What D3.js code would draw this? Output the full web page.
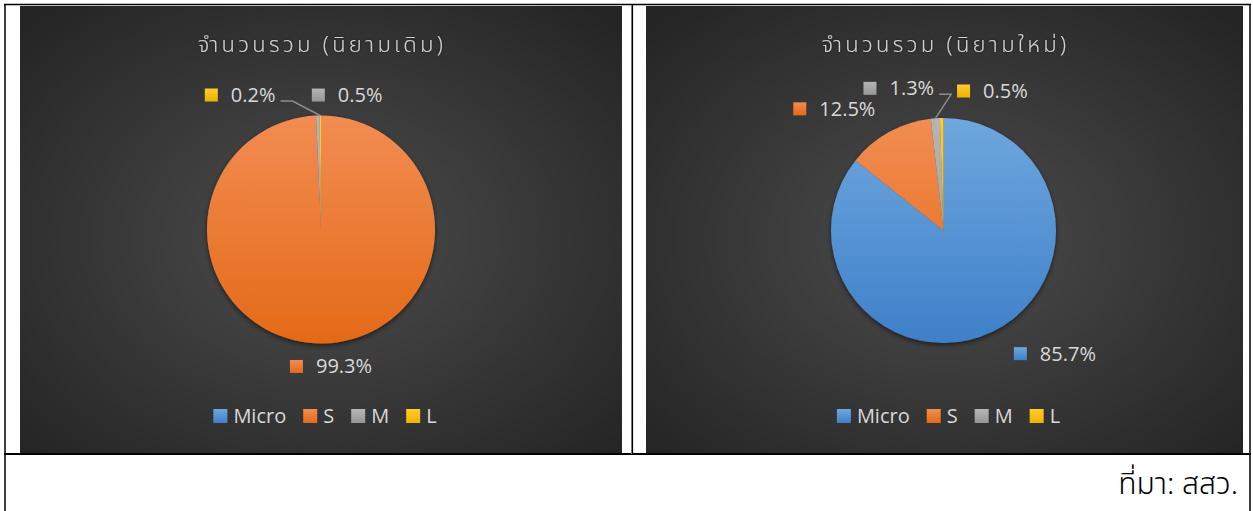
<!DOCTYPE html>
<html lang="th">
<head>
  <meta charset="UTF-8">
  <title>จำนวนรวม</title>
  <script src="https://cdnjs.cloudflare.com/ajax/libs/d3/7.8.5/d3.min.js"></script>
  <style>
    body { margin: 0; background: #fff; }
    svg { display: block; }
  </style>
</head>
<body>
  <script>

    // data
    var categories = ["Micro", "S", "M", "L"];
    var oldShares = [0, 99.3, 0.5, 0.2];     // นิยามเดิม
    var newShares = [85.7, 12.5, 1.3, 0.5];  // นิยามใหม่
    var titles = ["จำนวนรวม (นิยามเดิม)", "จำนวนรวม (นิยามใหม่)"];
    var sourceText = "ที่มา: สสว.";

    var W = 1253, H = 511;
    var font = "'Open Sans', 'Noto Sans', sans-serif";
    var thaiFont = "'Noto Sans Thai', 'Noto Sans Thai Looped', Loma, Garuda, Waree, 'Open Sans', sans-serif";
    var textColor = "#d9d9d9";

    // office palette, light/dark ends for the gradient fill
    var lightColor = d3.scaleOrdinal().domain(categories)
      .range(["#6fa7de", "#f28c52", "#b5b5b5", "#ffcc2e"]);
    var darkColor = d3.scaleOrdinal().domain(categories)
      .range(["#3e80c9", "#e46a17", "#969696", "#eeb200"]);

    var svg = d3.select("body").append("svg")
      .attr("width", W)
      .attr("height", H);
    var defs = svg.append("defs");

    var bg = defs.append("radialGradient").attr("id", "bg")
      .attr("cx", "50%").attr("cy", "52%").attr("r", "68%");
    bg.append("stop").attr("offset", "0%").attr("stop-color", "#4d4d4d");
    bg.append("stop").attr("offset", "100%").attr("stop-color", "#252525");

    var shadow = defs.append("filter").attr("id", "shadow")
      .attr("x", "-10%").attr("y", "-10%").attr("width", "120%").attr("height", "125%");
    shadow.append("feDropShadow")
      .attr("dx", 0).attr("dy", 2).attr("stdDeviation", 2.5)
      .attr("flood-color", "#000").attr("flood-opacity", 0.55);

    var glow = defs.append("filter").attr("id", "glow");
    glow.append("feDropShadow")
      .attr("dx", 0).attr("dy", 0).attr("stdDeviation", 1)
      .attr("flood-color", "#000").attr("flood-opacity", 0.6);

    // legend / label key gradient (per box)
    categories.forEach(function (c, i) {
      var lg = defs.append("linearGradient")
        .attr("id", "k" + i)
        .attr("x1", 0).attr("x2", 0).attr("y1", 0).attr("y2", 1);
      lg.append("stop").attr("offset", "0%").attr("stop-color", lightColor(c));
      lg.append("stop").attr("offset", "100%").attr("stop-color", darkColor(c));
    });

    // label nudges (px) relative to the slice's outer point, per chart
    var nudges = [
      [[0, 0], [7, 1], [30, 1.5], [-80, 1.5]],
      [[53, 2], [-44, -4], [-35, -8], [51, -5]]
    ];
    // which labels get a leader line
    var leaders = [[false, false, false, true], [false, false, true, false]];

    var panels = [
      { x0: 20, x1: 622, values: oldShares, title: titles[0] },
      { x0: 646, x1: 1243, values: newShares, title: titles[1] }
    ];
    var panelTop = 6, panelBottom = 453;

    panels.forEach(function (p, pi) {
      var g = svg.append("g");
      var pw = p.x1 - p.x0;
      var cx = p.x0 + pw / 2 + (pi === 0 ? 0 : -1);
      var cy = 229.5 + (pi === 0 ? 0 : 1);
      var r = pi === 0 ? 114 : 112.5;

      g.append("rect")
        .attr("x", p.x0).attr("y", panelTop)
        .attr("width", pw).attr("height", panelBottom - panelTop)
        .attr("fill", "url(#bg)");

      g.append("text")
        .attr("x", p.x0 + pw / 2 + 1)
        .attr("y", 52)
        .attr("text-anchor", "middle")
        .attr("fill", "#d0d0d0")
        .attr("filter", "url(#glow)")
        .style("font-family", thaiFont)
        .style("font-size", "22px")
        .style("font-weight", 300)
        .style("letter-spacing", "3.3px")
        .text(p.title);

      // gradients for slices, in the pie's own coordinates
      categories.forEach(function (c, i) {
        var lg = defs.append("linearGradient")
          .attr("id", "g" + pi + "_" + i)
          .attr("gradientUnits", "userSpaceOnUse")
          .attr("x1", 0).attr("x2", 0)
          .attr("y1", -r).attr("y2", r);
        lg.append("stop").attr("offset", "0%").attr("stop-color", lightColor(c));
        lg.append("stop").attr("offset", "100%").attr("stop-color", darkColor(c));
      });

      var pie = d3.pie().sort(null).value(function (d) { return d; });
      var arcs = pie(p.values);
      var arc = d3.arc().innerRadius(0).outerRadius(r);
      var labelArc = d3.arc().innerRadius(r + 22).outerRadius(r + 22);
      var edgeArc = d3.arc().innerRadius(r).outerRadius(r);

      var pg = g.append("g").attr("transform", "translate(" + cx + "," + cy + ")");
      pg.append("g")
        .attr("filter", "url(#shadow)")
        .selectAll("path.slice")
        .data(arcs)
        .enter()
        .append("path")
        .attr("class", "slice")
        .attr("d", arc)
        .attr("fill", function (d, i) { return "url(#g" + pi + "_" + i + ")"; });

      // data labels
      arcs.forEach(function (d, i) {
        if (d.value === 0) return;
        var c = labelArc.centroid(d);
        var lx = c[0] + nudges[pi][i][0];
        var ly = c[1] + nudges[pi][i][1];
        var lab = pg.append("g").attr("transform", "translate(" + lx + "," + ly + ")");
        var t = lab.append("text")
          .attr("x", 0).attr("y", 7)
          .attr("fill", textColor)
          .style("font-family", font)
          .style("font-size", "20px")
          .text(d.value.toFixed(1) + "%");
        var tw = t.node().getComputedTextLength();
        var total = 13 + 13 + tw;
        lab.append("rect")
          .attr("x", -total / 2).attr("y", -6.5)
          .attr("width", 13).attr("height", 13)
          .attr("fill", "url(#k" + i + ")");
        t.attr("x", -total / 2 + 26);

        if (leaders[pi][i]) {
          var e = edgeArc.centroid(d);
          var pts;
          if (lx < e[0] - 20) {
            var sx = lx + total / 2 + 5;
            pts = [[sx, ly + 6], [sx + 12, ly + 6], e];
          } else {
            pts = [[lx + total / 2 + 5, ly + 6], e];
          }
          pg.append("path")
            .attr("d", d3.line()(pts))
            .attr("fill", "none")
            .attr("stroke", "#8c8c8c")
            .attr("stroke-width", 1.5);
        }
      });

      // legend
      var legend = g.append("g").attr("transform", "translate(0,416)");
      var items = legend.selectAll("g")
        .data(categories)
        .enter()
        .append("g");
      items.append("rect")
        .attr("y", -7).attr("width", 14).attr("height", 14)
        .attr("fill", function (d, i) { return "url(#k" + i + ")"; });
      items.append("text")
        .attr("x", 20).attr("y", 7)
        .attr("fill", textColor)
        .style("font-family", font)
        .style("font-size", "20px")
        .text(function (d) { return d; });
      var xs = [], acc = 0;
      items.each(function () {
        xs.push(acc);
        acc += 20 + this.querySelector("text").getComputedTextLength() + 17;
      });
      var lw = acc - 17;
      var lx0 = p.x0 + pw / 2 + 4 - lw / 2;
      items.attr("transform", function (d, i) { return "translate(" + (lx0 + xs[i]) + ",0)"; });
    });

    // table borders
    var border = svg.append("g").attr("stroke", "#000").attr("fill", "none");
    border.append("line").attr("x1", 4).attr("x2", 1251).attr("y1", 4.5).attr("y2", 4.5).attr("stroke-width", 1.5);
    border.append("line").attr("x1", 5).attr("x2", 5).attr("y1", 4).attr("y2", H).attr("stroke-width", 1.5);
    border.append("line").attr("x1", 1250).attr("x2", 1250).attr("y1", 4).attr("y2", H).attr("stroke-width", 1.5);
    border.append("line").attr("x1", 4).attr("x2", 1251).attr("y1", 454).attr("y2", 454).attr("stroke-width", 2);
    border.append("line").attr("x1", 631.5).attr("x2", 631.5).attr("y1", 5).attr("y2", 454).attr("stroke", "#888").attr("stroke-width", 1);
    border.append("line").attr("x1", 632.5).attr("x2", 632.5).attr("y1", 5).attr("y2", 454).attr("stroke-width", 1.2);

    svg.append("text")
      .attr("x", 1238).attr("y", 494)
      .attr("text-anchor", "end")
      .attr("fill", "#000")
      .style("font-family", thaiFont)
      .style("font-size", "30px")
      .style("font-weight", 350)
      .text(sourceText);
  </script>
</body>
</html>
